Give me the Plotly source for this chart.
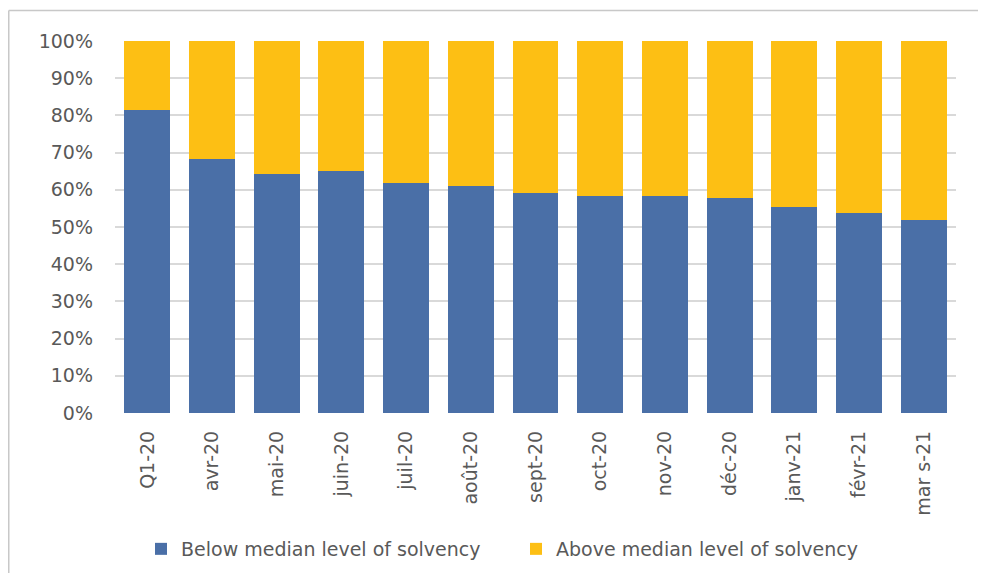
import plotly.graph_objects as go

categories = ["Q1-20", "avr-20", "mai-20", "juin-20", "juil-20", "août-20", "sept-20",
              "oct-20", "nov-20", "déc-20", "janv-21", "févr-21", "mar s-21"]
below_median = [81.5, 68.4, 64.3, 65.0, 61.9, 60.9, 59.1, 58.4, 58.4, 57.7, 55.3, 53.7, 51.9]
above_median = [18.5, 31.6, 35.7, 35.0, 38.1, 39.1, 40.9, 41.6, 41.6, 42.3, 44.7, 46.3, 48.1]
y_ticks = [0, 10, 20, 30, 40, 50, 60, 70, 80, 90, 100]

FONT = "DejaVu Sans"
TXT = "#595959"
FS = 19
OFF = 8  # page body margin
W, H = 986 - 2 * OFF, 581 - 2 * OFF
ML, MR, MT, MB = 107, 22, 33, 160
PW = W - ML - MR
PH = H - MT - MB

def px_x(p):
    return (p - OFF - ML) / PW

def px_y(p):
    return (H - MB - (p - OFF)) / PH

fig = go.Figure()
fig.add_trace(go.Bar(x=categories, y=below_median, name="Below median level of solvency",
                     marker=dict(color="#4A6FA7", line=dict(width=0))))
fig.add_trace(go.Bar(x=categories, y=above_median, name="Above median level of solvency",
                     marker=dict(color="#FDBF14", line=dict(width=0))))

fig.update_layout(
    width=W, height=H,
    margin=dict(l=ML, r=MR, t=MT, b=MB, autoexpand=False),
    barmode="stack", bargap=0.29,
    plot_bgcolor="white", paper_bgcolor="white",
    font=dict(family=FONT, size=FS, color=TXT),
    showlegend=True,
    legend=dict(orientation="h", xref="container", yref="container",
                x=(141 - OFF) / W, xanchor="left",
                y=(H - (549 - OFF)) / H, yanchor="middle",
                font=dict(family=FONT, size=FS, color=TXT), itemwidth=30,
                entrywidth=330, entrywidthmode="pixels",
                traceorder="normal"),
    xaxis=dict(tickangle=-90, showgrid=False, showline=False, ticks="",
               ticklabelstandoff=13, tickfont=dict(size=FS, color=TXT)),
    yaxis=dict(range=[0, 100], tickvals=y_ticks, ticktext=[f"{v}%" for v in y_ticks],
               showgrid=True, gridcolor="#D9D9D9", gridwidth=1.5, zeroline=False,
               showline=False, ticks="", ticklabelstandoff=21,
               tickfont=dict(size=FS, color=TXT)),
    shapes=[
        dict(type="line", xref="paper", yref="paper", x0=px_x(8.75), x1=px_x(990),
             y0=px_y(10.5), y1=px_y(10.5), line=dict(color="#C8C8C8", width=1.5)),
        dict(type="line", xref="paper", yref="paper", x0=px_x(8.75), x1=px_x(8.75),
             y0=px_y(10.5), y1=px_y(590), line=dict(color="#C8C8C8", width=1.5)),
    ],
)

fig.write_html("out.html")
